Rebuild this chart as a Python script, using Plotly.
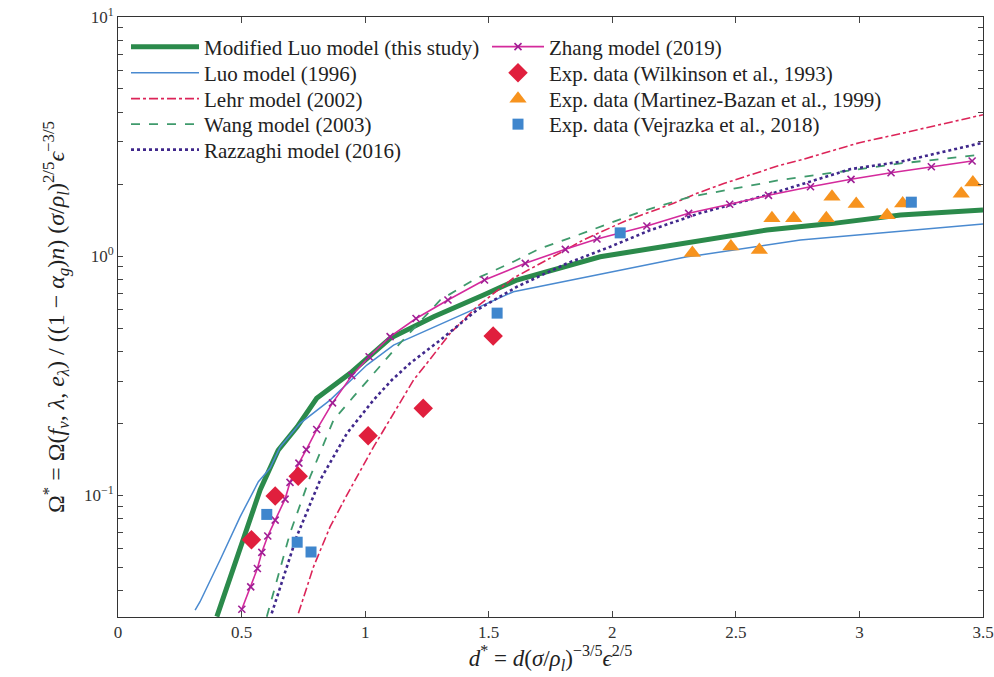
import plotly.graph_objects as go
import numpy as np

# ---------------- data ----------------
mod_luo_x = [0.40, 0.506, 0.575, 0.648, 0.725, 0.804, 0.939, 1.101, 1.277, 1.479, 1.614, 1.951, 2.356, 2.626, 2.896, 3.166, 3.50]
mod_luo_y = [0.031, 0.0648, 0.105, 0.154, 0.193, 0.254, 0.323, 0.453, 0.557, 0.687, 0.794, 0.993, 1.167, 1.285, 1.37, 1.484, 1.56]

luo_x = [0.312, 0.332, 0.413, 0.494, 0.568, 0.615, 0.656, 0.737, 0.858, 1.007, 1.115, 1.277, 1.438, 1.600, 2.302, 2.356, 2.761, 3.166, 3.50]
luo_y = [0.033, 0.0358, 0.0535, 0.0811, 0.1137, 0.1294, 0.159, 0.1995, 0.2497, 0.35, 0.424, 0.503, 0.600, 0.709, 0.993, 1.01, 1.166, 1.264, 1.36]

lehr_x = [0.730, 0.791, 0.858, 0.926, 1.034, 1.115, 1.196, 1.250, 1.344, 1.452, 1.600, 1.817, 1.883, 2.046, 2.248, 2.343, 2.451, 2.68, 2.761, 3.0, 3.166, 3.50]
lehr_y = [0.032, 0.0501, 0.0736, 0.100, 0.159, 0.220, 0.303, 0.356, 0.475, 0.614, 0.809, 1.07, 1.167, 1.392, 1.662, 1.83, 2.01, 2.40, 2.52, 2.98, 3.25, 3.9]

wang_x = [0.602, 0.696, 0.777, 0.872, 0.953, 1.047, 1.128, 1.304, 1.438, 1.600, 1.709, 1.843, 2.113, 2.316, 2.68, 3.166, 3.50]
wang_y = [0.031, 0.0692, 0.119, 0.206, 0.258, 0.334, 0.417, 0.655, 0.794, 0.947, 1.077, 1.205, 1.53, 1.77, 2.08, 2.44, 2.66]

razz_x = [0.622, 0.723, 0.818, 0.926, 1.034, 1.108, 1.182, 1.304, 1.452, 1.614, 1.817, 1.992, 2.154, 2.356, 2.626, 2.964, 3.166, 3.50]
razz_y = [0.032, 0.067, 0.1156, 0.181, 0.250, 0.303, 0.356, 0.445, 0.594, 0.744, 0.932, 1.094, 1.284, 1.513, 1.80, 2.31, 2.48, 2.98]

zhang_x = [0.501, 0.537, 0.564, 0.582, 0.606, 0.636, 0.676, 0.696, 0.732, 0.762, 0.804, 0.868, 0.946, 1.016, 1.101, 1.206,
           1.335, 1.483, 1.648, 1.810, 1.938, 2.140, 2.309, 2.475, 2.632, 2.802, 2.966, 3.128, 3.291, 3.456]
zhang_y = [0.0333, 0.0413, 0.0493, 0.0576, 0.0674, 0.0786, 0.0962, 0.113, 0.136, 0.155, 0.188, 0.243, 0.316, 0.379, 0.460, 0.548,
           0.655, 0.794, 0.932, 1.067, 1.178, 1.335, 1.509, 1.646, 1.795, 1.95, 2.094, 2.23, 2.364, 2.497]

wilk_x = [0.54, 0.636, 0.729, 1.012, 1.235, 1.518]
wilk_y = [0.065, 0.099, 0.120, 0.177, 0.231, 0.463]

mb_x = [2.324, 2.480, 2.595, 2.646, 2.734, 2.866, 2.889, 2.987, 3.112, 3.175, 3.412, 3.459]
mb_y = [1.03, 1.096, 1.06, 1.438, 1.438, 1.438, 1.77, 1.65, 1.48, 1.66, 1.82, 2.03]

vej_x = [0.602, 0.725, 0.781, 1.534, 2.032, 3.21]
vej_y = [0.083, 0.0635, 0.0578, 0.577, 1.25, 1.68]

y_decades = [0.1, 1, 10]
y_decade_labels = ["10<sup>−1</sup>", "10<sup>0</sup>", "10<sup>1</sup>"]
x_ticks = [0, 0.5, 1, 1.5, 2, 2.5, 3, 3.5]
x_tick_labels = ["0", "0.5", "1", "1.5", "2", "2.5", "3", "3.5"]

FONT = "Liberation Serif"

fig = go.Figure()

traces = [
    dict(x=mod_luo_x, y=mod_luo_y, mode="lines", name="Modified Luo model (this study)",
         line=dict(color="#2b8a4b", width=5)),
    dict(x=luo_x, y=luo_y, mode="lines", name="Luo model (1996)",
         line=dict(color="#4a8ad0", width=1.5)),
    dict(x=lehr_x, y=lehr_y, mode="lines", name="Lehr model (2002)",
         line=dict(color="#dc2458", width=1.6, dash="dashdot")),
    dict(x=wang_x, y=wang_y, mode="lines", name="Wang model (2003)",
         line=dict(color="#3f9a6c", width=1.8, dash="dash")),
    dict(x=razz_x, y=razz_y, mode="lines", name="Razzaghi model (2016)",
         line=dict(color="#40288c", width=2.6, dash="dot")),
    dict(x=zhang_x, y=zhang_y, mode="lines+markers", name="Zhang model (2019)",
         line=dict(color="#d42a9c", width=1.6),
         marker=dict(symbol="x-thin", size=7, line=dict(color="#a01f95", width=1.6))),
    dict(x=wilk_x, y=wilk_y, mode="markers", name="Exp. data (Wilkinson et al., 1993)",
         marker=dict(symbol="diamond", size=15, color="#e01f3d")),
    dict(x=mb_x, y=mb_y, mode="markers", name="Exp. data (Martinez-Bazan et al., 1999)",
         marker=dict(symbol="triangle-up", size=15, color="#f7931e")),
    dict(x=vej_x, y=vej_y, mode="markers", name="Exp. data (Vejrazka et al., 2018)",
         marker=dict(symbol="square", size=11, color="#3f86cd")),
]

# legend rows (pixel y of each row centre in the reference) -> paper coords
row_px = [47, 73, 99, 124.5, 150]
plot_top, plot_bottom = 17, 617
def paper_y(py):
    return (plot_bottom - py) / (plot_bottom - plot_top)

legend_layout = {}
for i, t in enumerate(traces):
    key = "legend" if i == 0 else f"legend{i + 1}"
    fig.add_trace(go.Scatter(legend=key, showlegend=True, **t))
    if i < 5:
        xpos, iw, row = (126 - 118) / 865, 68, i
    else:
        xpos, iw, row = (487 - 118) / 865, 52, i - 5
    legend_layout[key] = dict(x=xpos, y=paper_y(row_px[row]), xanchor="left", yanchor="middle",
                              font=dict(family=FONT, size=21, color="#222"),
                              bgcolor="rgba(255,255,255,0)", borderwidth=0, itemwidth=iw)

# log minor ticks as tick values with empty labels
yvals, ytext = [], []
for d, lab in zip(y_decades, y_decade_labels):
    yvals.append(d)
    ytext.append(lab)
    if d < 10:
        for m in range(2, 10):
            yvals.append(m * d)
            ytext.append("")
for m in range(3, 10):
    yvals.append(m * 0.01)
    ytext.append("")

axis_common = dict(showline=True, linecolor="#333", linewidth=1, mirror="ticks", ticks="inside",
                   tickcolor="#444", showgrid=False, zeroline=False, automargin=False,
                   tickfont=dict(family=FONT, size=17, color="#333"))

fig.update_xaxes(range=[0, 3.5], tickvals=x_ticks, ticktext=x_tick_labels, ticklen=6, **axis_common,
                 title=dict(text="<i>d</i><sup>*</sup> = <i>d</i>(<i>σ</i>/<i>ρ<sub>l</sub></i>)<sup>−3/5</sup><i>ϵ</i><sup>2/5</sup>",
                            font=dict(family=FONT, size=23, color="#222"), standoff=6))
fig.update_yaxes(type="log", range=[np.log10(0.0309), 1], tickvals=yvals, ticktext=ytext, ticklen=5, **axis_common,
                 title=dict(text="Ω<sup>*</sup> = Ω(<i>f<sub>v</sub></i>, <i>λ</i>, <i>e<sub>λ</sub></i>) / ((1 − <i>α<sub>g</sub></i>)<i>n</i>) (<i>σ</i>/<i>ρ<sub>l</sub></i>)<sup>2/5</sup><i>ϵ</i><sup>−3/5</sup>",
                            font=dict(family=FONT, size=24, color="#222"), standoff=12))

fig.update_layout(
    width=994, height=677,
    margin=dict(l=118, r=11, t=17, b=60),
    paper_bgcolor="white", plot_bgcolor="white",
    showlegend=True,
    **legend_layout,
)

fig.write_html("out.html")
